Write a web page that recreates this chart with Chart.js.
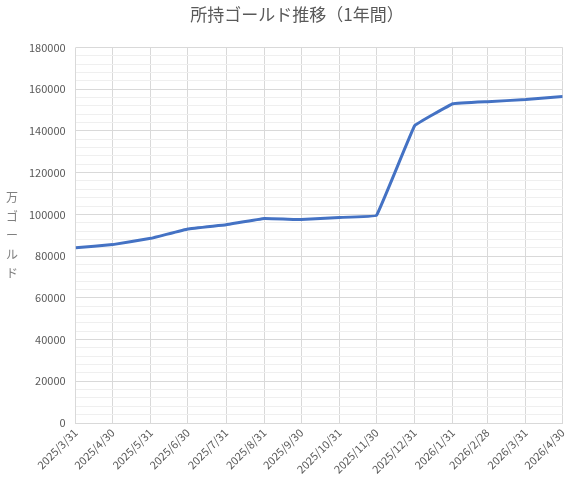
<!DOCTYPE html>
<html><head><meta charset="utf-8">
<script src="https://cdn.jsdelivr.net/npm/chart.js@4"></script>
<style>body{margin:0;background:#fff}#wrap{width:575px;height:479px}</style>
</head><body><div id="wrap"><canvas id="c"></canvas></div>
<script>
// 所持ゴールド（万）
const dateLabels = ['2025/3/31','2025/4/30','2025/5/31','2025/6/30','2025/7/31','2025/8/31','2025/9/30','2025/10/31','2025/11/30','2025/12/31','2026/1/31','2026/2/28','2026/3/31','2026/4/30'];
const dayOffsets = [0,30,61,91,122,153,183,214,244,275,306,334,365,395];
const goldValues = [84000,85500,88500,93000,95000,98000,97500,98500,99500,142500,153000,154000,155000,156500];
const FONT = '"Noto Sans CJK JP", "Noto Sans", sans-serif';

// Y軸タイトルを縦書きで描く
const vertTitle = {
  id: 'vertTitle',
  afterDraw(chart) {
    const ctx = chart.ctx;
    ctx.save();
    ctx.fillStyle = '#7f7f7f';
    ctx.font = '12px ' + FONT;
    ctx.textAlign = 'center';
    ctx.textBaseline = 'middle';
    '万ゴールド'.split('').forEach((ch, i) => ctx.fillText(ch, 12, 197 + i * 19));
    ctx.restore();
  }
};

new Chart(document.getElementById('c'), {
  type: 'line',
  data: {
    datasets: [{
      data: dayOffsets.map((d, i) => ({ x: d, y: goldValues[i] })),
      borderColor: '#4472c4',
      borderWidth: 3,
      pointRadius: 0,
      tension: 0.05,
      fill: false
    }]
  },
  options: {
    responsive: true,
    maintainAspectRatio: false,
    animation: false,
    layout: { padding: { left: 19, right: 0, top: 0, bottom: 0 } },
    plugins: {
      legend: { display: false },
      tooltip: { enabled: false },
      title: {
        display: true,
        text: '所持ゴールド推移（1年間）',
        color: '#595959',
        font: { family: FONT, size: 17, weight: 'normal' },
        padding: { top: 4, bottom: 23 }
      }
    },
    scales: {
      x: {
        type: 'linear',
        min: 0, max: 395,
        afterBuildTicks: s => { s.ticks = dayOffsets.map(v => ({ value: v })); },
        ticks: {
          autoSkip: false,
          maxRotation: 45, minRotation: 45,
          color: '#595959',
          font: { family: FONT, size: 11 },
          callback: (v) => dateLabels[dayOffsets.indexOf(v)]
        },
        grid: { color: '#d9d9d9', drawTicks: false },
        border: { color: '#d9d9d9' }
      },
      y: {
        min: 0, max: 180000,
        ticks: {
          stepSize: 4000,
          autoSkip: false,
          padding: 10,
          color: '#595959',
          font: { family: FONT, size: 11 },
          callback: v => v % 20000 === 0 ? String(v) : ''
        },
        grid: {
          drawTicks: false,
          color: c => c.tick && c.tick.value % 20000 === 0 ? '#d9d9d9' : '#efefef'
        },
        border: { display: false }
      }
    }
  },
  plugins: [vertTitle]
});
</script></body></html>
